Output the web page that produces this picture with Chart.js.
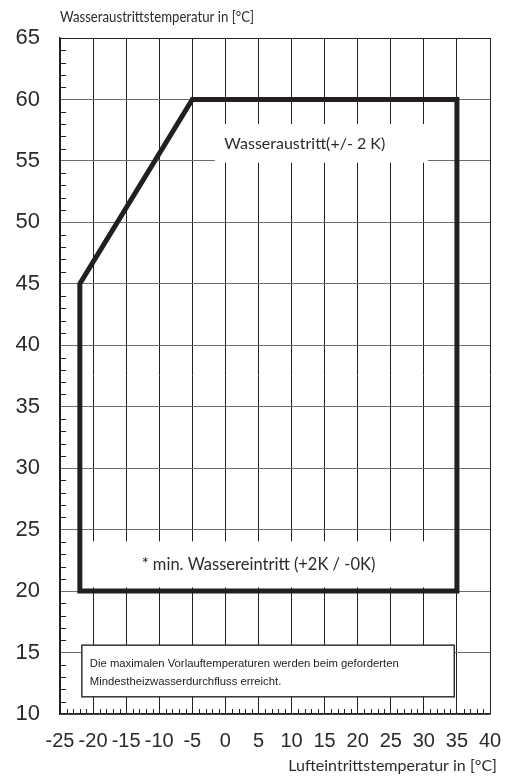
<!DOCTYPE html>
<html>
<head>
<meta charset="utf-8">
<script src="https://cdn.jsdelivr.net/npm/chart.js@4/dist/chart.umd.min.js"></script>
<style>
  body { margin: 0; background: #fff; }
  #wrap { width: 510px; height: 776px; }
</style>
</head>
<body>
<div id="wrap"><canvas id="einsatzgrenze" width="510" height="776"></canvas></div>
<script>
// Einsatzgrenze: Lufteintritt (x) gegen Wasseraustritt (y)
const airTemp = [-22, -22, -5, 35, 35, -22];
const waterTemp = [20, 45, 60, 60, 20, 20];
const xTicks = [-25, -20, -15, -10, -5, 0, 5, 10, 15, 20, 25, 30, 35, 40];
const yTicks = [10, 15, 20, 25, 30, 35, 40, 45, 50, 55, 60, 65];

const dark = "#231f20";
const txt = "#2b2b2b";

const deko = {
  id: "deko",
  beforeDatasetsDraw(chart) {
    const { ctx: t, chartArea: a, scales: s } = chart;
    const X = s.x, Y = s.y;
    t.save();
    // kleine Teilstriche
    t.strokeStyle = dark;
    t.lineWidth = 1;
    t.beginPath();
    for (let v = 11; v < 65; v++) {
      if (v % 5 === 0) continue;
      const y = Math.round(Y.getPixelForValue(v)) + 0.5;
      t.moveTo(a.left, y);
      t.lineTo(a.left + 6, y);
    }
    for (let v = -24; v < 40; v++) {
      if (v % 5 === 0) continue;
      const x = Math.round(X.getPixelForValue(v)) + 0.5;
      t.moveTo(x, a.bottom);
      t.lineTo(x, a.bottom - 5);
    }
    t.stroke();

    // weisse Flaechen hinter den Beschriftungen
    const box = (x0, x1, y0, y1) => {
      const l = X.getPixelForValue(x0), r = X.getPixelForValue(x1);
      const tp = Y.getPixelForValue(y1), b = Y.getPixelForValue(y0);
      return [l, tp, r - l, b - tp];
    };
    t.fillStyle = "#fff";
    t.fillRect(...box(-1.6, 30.6, 54.85, 58));
    t.fillRect(...box(-21.5, 34.5, 20.3, 24.05));
    const nb = box(-21.7, 34.6, 11.4, 15.6);
    t.fillRect(...nb);
    t.strokeStyle = "#333";
    t.lineWidth = 1.5;
    t.strokeRect(...nb);

    // Texte
    t.fillStyle = txt;
    t.textAlign = "center";
    t.textBaseline = "middle";
    t.font = "16px Lato";
    t.fillText("Wasseraustritt(+/- 2 K)", X.getPixelForValue(12.0), Y.getPixelForValue(56.4));
    t.font = "16.5px Lato";
    t.fillText("* min. Wassereintritt (+2K / -0K)", X.getPixelForValue(5.0), Y.getPixelForValue(22.15));
    t.textAlign = "left";
    t.font = "11.3px 'Liberation Sans'";
    t.fillStyle = "#222";
    t.fillText("Die maximalen Vorlauftemperaturen werden beim geforderten", nb[0] + 8, nb[1] + 19);
    t.fillText("Mindestheizwasserdurchfluss erreicht.", nb[0] + 8, nb[1] + 37);
    t.restore();
  },
  afterDraw(chart) {
    const { ctx: t, chartArea: a } = chart;
    t.save();
    t.fillStyle = txt;
    t.font = "15px Lato";
    t.textBaseline = "middle";
    t.textAlign = "left";
    t.fillText("Wasseraustrittstemperatur in [°C]", a.left, 17, 194);
    t.font = "16px Lato";
    t.textAlign = "right";
    t.fillText("Lufteintrittstemperatur in [°C]", 497, 766);
    t.restore();
  },
};

new Chart(document.getElementById("einsatzgrenze"), {
  type: "scatter",
  data: {
    datasets: [
      {
        data: airTemp.map((x, i) => ({ x: x, y: waterTemp[i] })),
        showLine: true,
        borderColor: dark,
        borderWidth: 5,
        borderJoinStyle: "miter",
        borderCapStyle: "square",
        pointRadius: 0,
        tension: 0,
      },
    ],
  },
  plugins: [deko],
  options: {
    responsive: false,
    animation: false,
    layout: { padding: { top: 38, right: 20, left: 0, bottom: 0 } },
    plugins: { legend: { display: false }, tooltip: { enabled: false } },
    scales: {
      x: {
        type: "linear",
        min: -25,
        max: 40,
        afterBuildTicks: (s) => { s.ticks = xTicks.map((v) => ({ value: v })); },
        afterFit: (s) => { s.height = 62; s.paddingLeft = 0; s.paddingRight = 0; },
        grid: { color: dark, lineWidth: 1, drawTicks: false },
        border: { color: dark, width: 1.5 },
        ticks: { color: txt, padding: 15, maxRotation: 0, autoSkip: false, font: { family: "Liberation Sans", size: 20 } },
      },
      y: {
        type: "linear",
        min: 10,
        max: 65,
        afterBuildTicks: (s) => { s.ticks = yTicks.map((v) => ({ value: v })); },
        afterFit: (s) => { s.width = 60; s.paddingTop = 0; s.paddingBottom = 0; },
        grid: { color: (c) => (c.tick && c.tick.value === 65 ? dark : "#6d6d6d"), lineWidth: 1, drawTicks: false },
        border: { color: dark, width: 1.5 },
        ticks: { color: txt, padding: 20, font: { family: "Liberation Sans", size: 22 } },
      },
    },
  },
});
</script>
</body>
</html>
